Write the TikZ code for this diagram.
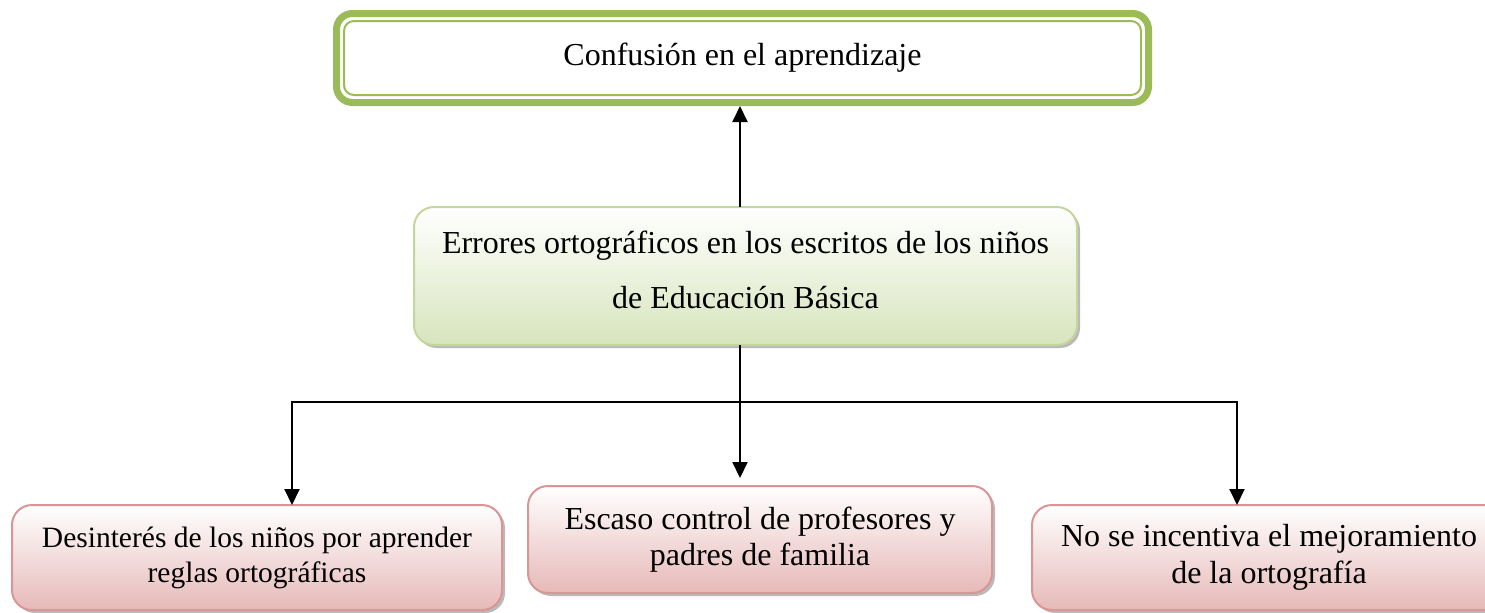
\documentclass[tikz,border=0pt]{standalone}
\usepackage{fontspec}
\setmainfont{Liberation Serif}
\usetikzlibrary{arrows.meta,shadows}
\definecolor{gframe}{HTML}{9BBB59}
\definecolor{gborder}{HTML}{C3D69B}
\definecolor{gfill}{HTML}{D7E4BD}
\definecolor{rborder}{HTML}{D99694}
\definecolor{rfill}{HTML}{E6B9B8}
\tikzset{
  topbox/.style={draw=gframe, line width=3.5pt, rounded corners=8pt, outer sep=0pt, inner sep=0pt,
    minimum width=406pt, minimum height=44.5pt, font=\fontsize{16}{19}\selectfont},
  boxshadow/.style={drop shadow={shadow xshift=1.5pt, shadow yshift=-1.5pt, fill=black!50, opacity=0.55}},
  greenbox/.style={draw=gborder, line width=1pt, rounded corners=10pt, top color=white, bottom color=gfill,
    boxshadow, align=center, inner sep=0pt, outer sep=0pt},
  pinkbox/.style={draw=rborder, line width=1pt, rounded corners=10pt, top color=white, bottom color=rfill,
    boxshadow, align=center, inner sep=0pt, outer sep=0pt},
  boxtext/.style={align=center, inner sep=0pt},
  arr/.style={line width=1pt, -{Triangle[length=8pt,width=7.5pt]}},
  arrboth/.style={line width=1pt, {Triangle[length=8pt,width=7.5pt]}-{Triangle[length=8pt,width=7.5pt]}}
}
\begin{document}
\begin{tikzpicture}[x=0.5pt,y=-0.5pt]
\useasboundingbox (0,0) rectangle (1485,612);
\clip (0,0) rectangle (1485,612);
\coordinate (axis) at (740,0);
\coordinate (hl) at (292,402);
\coordinate (hr) at (1237,402);
% top box
\node[topbox] (top) at (742.5,58) {Confusión en el aprendizaje};
\draw[gframe, line width=1pt, rounded corners=5pt]
  ([shift={(3.75pt,-3.75pt)}]top.north west) rectangle ([shift={(-3.75pt,3.75pt)}]top.south east);
% middle box
\node[greenbox, minimum width=331.5pt, minimum height=69pt] (mid) at (745.5,276) {};
\node[boxtext, font=\fontsize{16}{27.5}\selectfont] (midtext) at (745.5,270)
  {Errores ortográficos en los escritos de los niños\\de Educación Básica};
% bottom boxes
\node[pinkbox, minimum width=245pt, minimum height=52.5pt, font=\fontsize{14.75}{17.5}\selectfont]
  (des) at (257,557.5) {Desinterés de los niños por aprender\\reglas ortográficas};
\node[pinkbox, minimum width=232pt, minimum height=53.5pt, font=\fontsize{16}{18}\selectfont]
  (esc) at (760,539.5) {Escaso control de profesores y\\padres de familia};
\node[pinkbox, minimum width=237pt, minimum height=52.5pt, font=\fontsize{16}{18.5}\selectfont]
  (inc) at (1269,557.5) {No se incentiva el mejoramiento\\de la ortografía};
% connectors
\draw[arr] (axis |- mid.north) -- ([yshift=-1.75pt]axis |- top.south);
\draw[arr] (axis |- mid.south) -- ([yshift=4pt]axis |- esc.north);
\draw[arrboth] (hl |- des.north) -- (hl) -- (hr) -- (hr |- inc.north);
\end{tikzpicture}
\end{document}
